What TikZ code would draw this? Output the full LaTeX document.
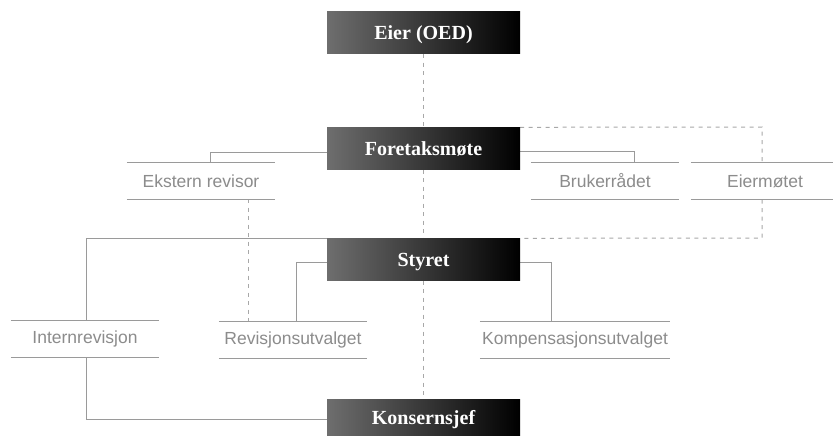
\documentclass[tikz,border=0pt]{standalone}
\usepackage{fontspec}
\setmainfont{Liberation Serif}
\setsansfont{Liberation Sans}
\usetikzlibrary{backgrounds}
\definecolor{boxgray}{HTML}{6E6E6E}
\definecolor{txtgray}{HTML}{8C8C8C}
\definecolor{lngray}{HTML}{9A9A9A}
\definecolor{dshgray}{HTML}{A8A8A8}
\tikzset{
  darkbox/.style={minimum width=193pt, minimum height=42pt, inner sep=0pt,
    left color=boxgray, right color=black, text=white,
    font=\fontsize{20}{24}\selectfont\bfseries, text height=13pt, text depth=0pt},
  lightbox/.style={minimum height=36pt, inner sep=0pt, fill=white, text=txtgray,
    font=\sffamily\fontsize{17.5}{21}\selectfont},
  conn/.style={draw=lngray, line width=1pt},
  dconn/.style={draw=dshgray, line width=1pt, dash pattern=on 4pt off 4.5pt},
}
\begin{document}
\begin{tikzpicture}[x=1pt, y=-1pt]
\useasboundingbox (0,0) rectangle (833,436);
% dark boxes
\node[darkbox] (eier) at (423.5,33) {Eier (OED)};
\node[darkbox] (fm) at (423.5,148.5) {Foretaksmøte};
\node[darkbox] (sty) at (423.5,259.5) {Styret};
\node[darkbox, minimum height=37pt] (ks) at (423.5,417.5) {Konsernsjef};
% light boxes
\node[lightbox, minimum width=148pt] (ekst) at (201,181) {Ekstern revisor};
\node[lightbox, minimum width=148pt] (bruk) at (605,181) {Brukerrådet};
\node[lightbox, minimum width=148pt] (eierm) at (765,181) {Eiermøtet};
\node[lightbox, minimum width=148pt] (intr) at (85,339) {Internrevisjon};
\node[lightbox, minimum width=148pt] (revu) at (293,340) {Revisjonsutvalget};
\node[lightbox, minimum width=190pt] (komp) at (575,340) {Kompensasjonsutvalget};
\foreach \n in {ekst,bruk,eierm,intr,revu,komp}{
  \draw[conn] (\n.north west) -- (\n.north east) (\n.south west) -- (\n.south east);
}
% helper coordinates
\coordinate (dr1) at (762,127);
\coordinate (dr2) at (762,238);
\begin{scope}[on background layer]
% dashed
\draw[dconn] (eier.south) -- (fm.north);
\draw[dconn] (fm.south) -- (sty.north);
\draw[dconn] (sty.south) -- (ks.north);
\draw[dconn] (ekst.south -| 248,0) -- (revu.north -| 248,0);
\draw[dconn] (fm.north east) -- (dr1) -- (dr2) -- (sty.north east);
% solid
\draw[conn] (fm.west |- 0,152) -| (ekst.north -| 210,0);
\draw[conn] (fm.east |- 0,151) -| (bruk.north -| 634,0);
\draw[conn] (sty.north west) -| (intr.north -| 86,0);
\draw[conn] (sty.west |- 0,262) -| (revu.north -| 296,0);
\draw[conn] (sty.east |- 0,262) -| (komp.north -| 551,0);
\draw[conn] (intr.south -| 86,0) |- (ks.west |- 0,419);
\end{scope}
\end{tikzpicture}
\end{document}
